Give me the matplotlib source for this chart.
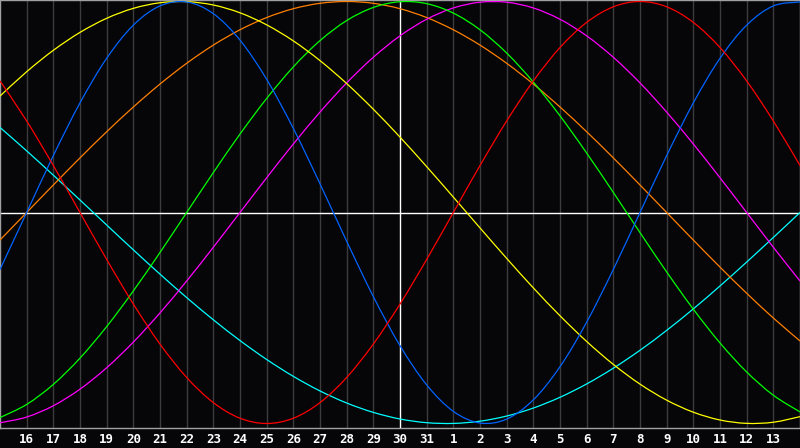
import numpy as np
import matplotlib
matplotlib.use("Agg")
import matplotlib.pyplot as plt
from matplotlib.path import Path
from matplotlib.patches import PathPatch

# ===== day labels (one per grid line) =====
day_labels = ["16", "17", "18", "19", "20", "21", "22", "23", "24", "25",
              "26", "27", "28", "29", "30", "31", "1", "2", "3", "4",
              "5", "6", "7", "8", "9", "10", "11", "12", "13"]

# ===== curve values, one per day from the left edge (15th) to the right edge (14th) =====
blue = [-0.2698, 0.0, 0.2698, 0.5196, 0.7308, 0.8879, 0.9791, 0.9977, 0.9423, 0.8170,
        0.6311, 0.3984, 0.1362, -0.1362, -0.3984, -0.6311, -0.8170, -0.9423, -0.9977, -0.9791,
        -0.8879, -0.7308, -0.5196, -0.2698, 0.0, 0.2698, 0.5196, 0.7308, 0.8879, 0.9791, 0.9977]
red = [0.6235, 0.4339, 0.2225, 0.0, -0.2225, -0.4339, -0.6235, -0.7818, -0.9010, -0.9749,
       -1.0, -0.9749, -0.9010, -0.7818, -0.6235, -0.4339, -0.2225, 0.0, 0.2225, 0.4339,
       0.6235, 0.7818, 0.9010, 0.9749, 1.0, 0.9749, 0.9010, 0.7818, 0.6235, 0.4339, 0.2225]
green = [-0.9718, -0.9096, -0.8146, -0.6901, -0.5406, -0.3717, -0.1893, 0.0, 0.1893, 0.3717,
         0.5406, 0.6901, 0.8146, 0.9096, 0.9718, 0.9989, 0.9898, 0.9450, 0.8660, 0.7557,
         0.6182, 0.4582, 0.2817, 0.0951, -0.0951, -0.2817, -0.4582, -0.6182, -0.7557, -0.8660, -0.9450]
magenta = [-0.9966, -0.9694, -0.9158, -0.8372, -0.7357, -0.6142, -0.4759, -0.3247, -0.1646, 0.0,
           0.1646, 0.3247, 0.4759, 0.6142, 0.7357, 0.8372, 0.9158, 0.9694, 0.9966, 0.9966,
           0.9694, 0.9158, 0.8372, 0.7357, 0.6142, 0.4759, 0.3247, 0.1646, 0.0, -0.1646, -0.3247]
yellow = [0.5518, 0.6673, 0.7686, 0.8536, 0.9203, 0.9675, 0.9940, 0.9993, 0.9834, 0.9464,
          0.8893, 0.8133, 0.7199, 0.6112, 0.4894, 0.3573, 0.2174, 0.0730, -0.0730, -0.2174,
          -0.3573, -0.4894, -0.6112, -0.7199, -0.8133, -0.8893, -0.9464, -0.9834, -0.9993, -0.9940, -0.9675]
orange = [-0.1305, 0.0, 0.1305, 0.2588, 0.3827, 0.5, 0.6088, 0.7071, 0.7934, 0.8660,
          0.9239, 0.9659, 0.9914, 1.0, 0.9914, 0.9659, 0.9239, 0.8660, 0.7934, 0.7071,
          0.6088, 0.5, 0.3827, 0.2588, 0.1305, 0.0, -0.1305, -0.2588, -0.3827, -0.5, -0.6088]
cyan = [0.4031, 0.2921, 0.1769, 0.0592, -0.0592, -0.1769, -0.2921, -0.4031, -0.5085, -0.6068,
        -0.6966, -0.7766, -0.8457, -0.9028, -0.9473, -0.9786, -0.9961, -0.9996, -0.9890, -0.9646,
        -0.9267, -0.8757, -0.8125, -0.7379, -0.6529, -0.5586, -0.4566, -0.3482, -0.2349, -0.1183, 0.0]

series = [
    (cyan, "#00ffff"),
    (orange, "#ff8000"),
    (magenta, "#ff00ff"),
    (green, "#00ff00"),
    (yellow, "#ffff00"),
    (blue, "#0064ff"),
    (red, "#ff0000"),
]


def smooth_path(xs, ys):
    # cubic bezier segments through the daily points (catmull-rom tangents)
    p = np.column_stack([xs, ys]).astype(float)
    n = len(p)
    verts = [p[0]]
    codes = [Path.MOVETO]
    for i in range(n - 1):
        p0 = p[max(i - 1, 0)]
        p1 = p[i]
        p2 = p[i + 1]
        p3 = p[min(i + 2, n - 1)]
        c1 = p1 + (p2 - p0) / 6.0
        c2 = p2 - (p3 - p1) / 6.0
        verts += [c1, c2, p2]
        codes += [Path.CURVE4] * 3
    return Path(verts, codes)


days = np.arange(len(blue))
tick_pos = np.arange(1, len(day_labels) + 1)
center = len(day_labels) // 2 + 1

# ===== figure =====
fig = plt.figure(figsize=(8, 4.48), dpi=100, facecolor="#060508")
ax = fig.add_axes([0, 20 / 448, 1, 428 / 448])
ax.set_facecolor("#060508")

for t in tick_pos:
    if t == center:
        continue
    ax.axvline(t, color="#3c3c3c", lw=1.0, zorder=1)
ax.axvline(center, color="white", lw=1.0, zorder=2)
ax.axhline(0, color="white", lw=1.0, zorder=2)

for vals, col in series:
    ax.add_patch(PathPatch(smooth_path(days, vals), fill=False,
                           edgecolor=col, lw=0.9, zorder=3))

ax.set_xlim(0, 30)
ax.set_ylim(-1.0213, 1.0071)
ax.set_yticks([])
ax.set_xticks(tick_pos)
ax.set_xticklabels(day_labels, color="white", fontsize=9,
                   fontweight="bold", family="DejaVu Sans Mono")
ax.tick_params(axis="x", length=0, pad=3.5)

for s in ax.spines.values():
    s.set_color("#a0a0a0")
    s.set_linewidth(1.0)

plt.savefig("out.png", dpi=100, facecolor=fig.get_facecolor())
plt.close()
